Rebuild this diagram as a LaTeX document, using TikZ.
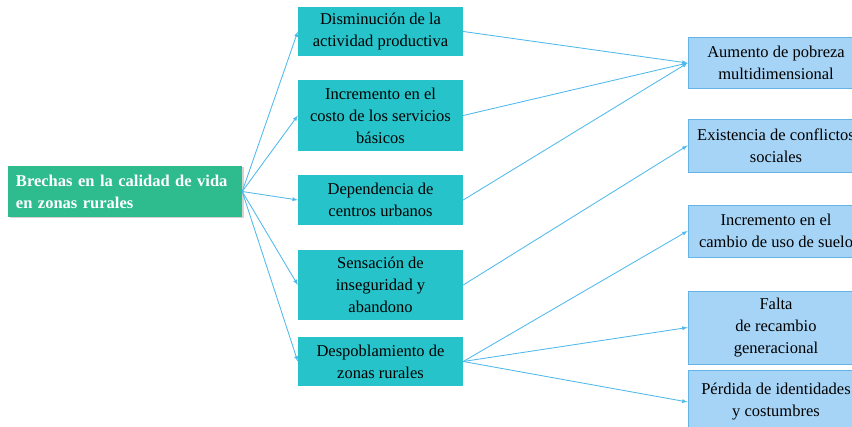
\documentclass[tikz,border=0pt]{standalone}
\usepackage{fontspec}
\setmainfont{Liberation Serif}
\usetikzlibrary{arrows,shadows}
\definecolor{verde}{RGB}{46,187,142}
\definecolor{turquesa}{RGB}{38,196,202}
\definecolor{celeste}{RGB}{166,212,246}
\definecolor{bordeceleste}{RGB}{100,180,232}
\definecolor{flechaazul}{RGB}{80,185,235}

\begin{document}
\begin{tikzpicture}[x=1pt,y=-1pt]
\tikzset{raiz/.style={fill=verde,text=white,font=\fontsize{16.5}{22}\selectfont\bfseries,align=left,text width=218pt,minimum width=234pt,minimum height=51pt,inner sep=8pt,drop shadow={shadow xshift=1.5pt,shadow yshift=-1.5pt,opacity=0.35}},
causa/.style={fill=turquesa,font=\fontsize{16.5}{22}\selectfont,align=center,minimum width=165pt,inner sep=0pt},
efecto/.style={fill=celeste,draw=bordeceleste,line width=0.8pt,font=\fontsize{16.5}{22}\selectfont,align=center,minimum width=176pt,inner sep=0pt},
flecha/.style={-latex,draw=flechaazul,line width=0.85pt}}
\useasboundingbox (0,0) rectangle (852,427);

\node[raiz] (brechas) at (125,191.5) {Brechas en la calidad de vida\\en zonas rurales};

\node[causa,minimum height=49pt] (disminucion) at (380.5,31.5) {Disminución de la\\actividad productiva};
\node[causa,minimum height=71pt] (costo) at (380.5,115.5) {Incremento en el\\costo de los servicios\\básicos};
\node[causa,minimum height=50pt] (dependencia) at (380.5,200) {Dependencia de\\centros urbanos};
\node[causa,minimum height=70pt] (inseguridad) at (380.5,285) {Sensación de\\inseguridad y\\abandono};
\node[causa,minimum height=49pt] (despoblamiento) at (380.5,361.5) {Despoblamiento de\\zonas rurales};

\node[efecto,minimum height=51pt] (pobreza) at (776,63) {Aumento de pobreza\\multidimensional};
\node[efecto,minimum height=53pt] (conflictos) at (776,145.5) {Existencia de conflictos\\sociales};
\node[efecto,minimum height=52pt] (suelo) at (776,231) {Incremento en el\\cambio de uso de suelo};
\node[efecto,minimum height=73pt] (recambio) at (776,327.5) {Falta\\de recambio\\generacional};
\node[efecto,minimum height=64pt] (identidades) at (776,402) {Pérdida de identidades\\y costumbres};

% causas
\foreach \c in {disminucion,costo,dependencia,inseguridad,despoblamiento}
  \draw[flecha] (brechas.east) -- (\c.west);

% efectos
\draw[flecha] (disminucion.east) -- (pobreza.west);
\draw[flecha] (costo.east) -- (pobreza.west);
\draw[flecha] (dependencia.east) -- (pobreza.west);
\draw[flecha] (inseguridad.east) -- (conflictos.west);
\draw[flecha] (despoblamiento.east) -- (suelo.west);
\draw[flecha] (despoblamiento.east) -- (recambio.west);
\draw[flecha] (despoblamiento.east) -- (identidades.west);

\end{tikzpicture}
\end{document}
